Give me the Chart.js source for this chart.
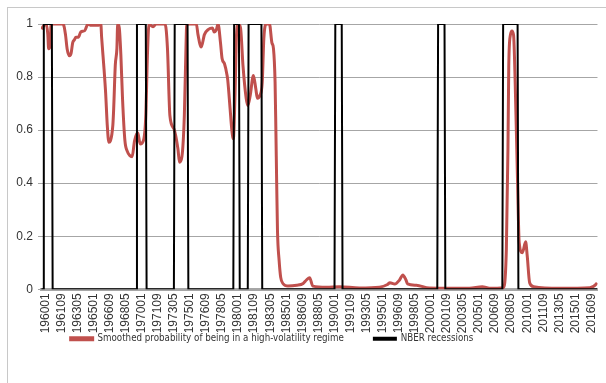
<!DOCTYPE html>
<html>
<head>
<meta charset="utf-8">
<script src="https://cdn.jsdelivr.net/npm/chart.js@4"></script>
<style>
  html, body { margin: 0; padding: 0; background: #fff; }
  #wrap { width: 606px; height: 383px; }
</style>
</head>
<body>
<div id="wrap"><canvas id="myChart" width="606" height="383"></canvas></div>
<script>
// Etichette dell'asse x (una ogni 20 mesi)
const tickLabels = ['196001', '196109', '196305', '196501', '196609', '196805', '197001', '197109', '197305',
    '197501', '197609', '197805', '198001', '198109', '198305', '198501', '198609', '198805', '199001',
    '199109', '199305', '199501', '199609', '199805', '200001', '200109', '200305', '200501', '200609',
    '200805', '201001', '201109', '201305', '201501', '201609'];

const firstMonth = '196001';
const lastMonth = '201709';

// Probabilita' stimata
const probDates = ['196001', '196003', '196007', '196009', '196010', '196012', '196101', '196204', '196207',
    '196209', '196212', '196302', '196304', '196306', '196308', '196311', '196402', '196407', '196411',
    '196503', '196511', '196603', '196604', '196607', '196609', '196611', '196701', '196703', '196706',
    '196707', '196709', '196711', '196712', '196802', '196804', '196806', '196809', '196812', '196903',
    '196906', '196909', '197001', '197004', '197008', '197011', '197101', '197103', '197108', '197112',
    '197211', '197302', '197305', '197310', '197403', '197405', '197408', '197411', '197501', '197502',
    '197602', '197604', '197608', '197612', '197705', '197710', '197712', '197803', '197805', '197808',
    '197810', '197901', '197904', '197905', '197908', '197910', '197912', '198002', '198004', '198006',
    '198009', '198012', '198104', '198106', '198109', '198201', '198204', '198206', '198209', '198212',
    '198302', '198305', '198309', '198312', '198402', '198404', '198405', '198406', '198407', '198409',
    '198411', '198502', '198508', '198607', '198703', '198707', '198711', '198803', '198908', '199012',
    '199301', '199502', '199512', '199603', '199609', '199703', '199707', '199711', '199801', '199812',
    '200004', '200205', '200406', '200510', '200607', '200712', '200804', '200806', '200807', '200809',
    '200811', '200901', '200903', '200906', '200908', '200912', '201004', '201006', '201009', '201102',
    '201311', '201612', '201708', '201709'];
const probValues = [0.98, 0.99, 1.0, 0.96, 0.907, 0.92, 1.0, 1.0, 0.96,
    0.907, 0.88, 0.89, 0.93, 0.94, 0.95, 0.95, 0.97, 0.975, 1.0,
    0.995, 0.995, 1.0, 0.95, 0.83, 0.74, 0.62, 0.554, 0.56, 0.62,
    0.68, 0.844, 0.907, 1.0, 0.985, 0.88, 0.72, 0.56, 0.52, 0.504,
    0.50, 0.56, 0.59, 0.548, 0.56, 0.655, 0.88, 1.0, 0.99, 1.0,
    1.0, 0.907, 0.655, 0.605, 0.53, 0.479, 0.50, 0.655, 0.907, 1.0,
    1.0, 0.96, 0.913, 0.96, 0.98, 0.985, 0.97, 0.98, 1.0, 0.93,
    0.87, 0.85, 0.81, 0.79, 0.68, 0.605, 0.567, 0.72, 0.96, 1.0,
    0.985, 0.844, 0.72, 0.693, 0.73, 0.806, 0.756, 0.72, 0.73, 0.78,
    0.945, 1.0, 1.0, 0.93, 0.907, 0.78, 0.6, 0.40, 0.22, 0.11,
    0.045, 0.021, 0.012, 0.015, 0.022, 0.035, 0.044, 0.012, 0.008, 0.01,
    0.005, 0.008, 0.018, 0.025, 0.02, 0.035, 0.054, 0.035, 0.02, 0.015,
    0.005, 0.004, 0.004, 0.01, 0.004, 0.006, 0.15, 0.53, 0.84, 0.958,
    0.974, 0.958, 0.78, 0.40, 0.176, 0.138, 0.179, 0.126, 0.025, 0.01,
    0.004, 0.006, 0.02, 0.025];

// Recessioni NBER (mese di picco e mese di minimo)
const recessionStart = ['196004', '196912', '197311', '198001', '198107', '199007', '200103', '200712'];
const recessionEnd = ['196102', '197011', '197503', '198007', '198211', '199103', '200111', '200906'];

const seriesNames = ['Smoothed probability of being in a high-volatility regime', 'NBER recessions'];

// Converte YYYYMM in indice del mese
function monthIndex(s) {
    const y = parseInt(s.substring(0, 4), 10);
    const m = parseInt(s.substring(4, 6), 10);
    return (y - 1960) * 12 + (m - 1);
}

const probPoints = probDates.map((d, i) => ({ x: monthIndex(d), y: probValues[i] }));

const recessionPoints = [{ x: monthIndex(firstMonth), y: 0 }];
recessionStart.forEach((s, i) => {
    const a = monthIndex(s);
    const b = monthIndex(recessionEnd[i]);
    recessionPoints.push({ x: a - 1, y: 0 }, { x: a, y: 1 }, { x: b, y: 1 }, { x: b + 1, y: 0 });
});
recessionPoints.push({ x: monthIndex(lastMonth), y: 0 });

const tickFont = "'Liberation Sans', Arial, sans-serif";
const legendFont = "'DejaVu Sans Condensed', sans-serif";

// Cornice grigia, sfondo bianco e posizione della legenda
const framePlugin = {
    id: 'frame',
    beforeDraw(chart) {
        const c = chart.ctx;
        c.save();
        c.fillStyle = '#ffffff';
        c.fillRect(0, 0, chart.width, chart.height);
        c.strokeStyle = '#c8c8c8';
        c.lineWidth = 1;
        c.strokeRect(7.5, 7.5, chart.width + 10, chart.height + 10);
        c.restore();
    },
    afterLayout(chart) {
        const lg = chart.legend;
        if (lg) {
            lg.left -= 27;
            lg.right -= 27;
            const dy = 304 - lg.top;
            lg.top += dy;
            lg.bottom += dy;
        }
    }
};

const ctx = document.getElementById('myChart').getContext('2d');
new Chart(ctx, {
    type: 'line',
    data: {
        datasets: [
            {
                label: seriesNames[0],
                data: probPoints,
                borderColor: '#c0504d',
                backgroundColor: '#c0504d',
                borderWidth: 3,
                pointRadius: 0,
                cubicInterpolationMode: 'monotone',
                fill: false,
                order: 1
            },
            {
                label: seriesNames[1],
                data: recessionPoints,
                borderColor: '#000000',
                backgroundColor: '#000000',
                borderWidth: 2,
                pointRadius: 0,
                tension: 0,
                fill: false,
                order: 0
            }
        ]
    },
    options: {
        responsive: false,
        animation: false,
        layout: {
            padding: { left: 0, top: 24, right: 8, bottom: 0 }
        },
        scales: {
            x: {
                type: 'linear',
                min: -0.5,
                max: monthIndex(lastMonth) + 0.5,
                afterBuildTicks: (axis) => {
                    axis.ticks = tickLabels.map(l => ({ value: monthIndex(l) }));
                },
                afterFit: (axis) => { axis.height = 44; },
                grid: { display: false, drawTicks: false },
                border: { display: true, color: '#a6a6a6', width: 3 },
                ticks: {
                    autoSkip: false,
                    minRotation: 90,
                    maxRotation: 90,
                    padding: 4,
                    labelOffset: 4,
                    color: '#333333',
                    font: { family: tickFont, size: 12 },
                    callback: (value) => {
                        const i = tickLabels.findIndex(l => monthIndex(l) === value);
                        return i >= 0 ? tickLabels[i] : '';
                    }
                }
            },
            y: {
                min: 0,
                max: 1,
                afterFit: (axis) => { axis.width = 41; },
                grid: { color: '#a6a6a6', lineWidth: 1, drawTicks: true, tickLength: 3 },
                border: { display: false },
                ticks: {
                    stepSize: 0.2,
                    padding: 5,
                    color: '#333333',
                    font: { family: tickFont, size: 12 },
                    callback: (value) => String(Math.round(value * 10) / 10)
                }
            }
        },
        plugins: {
            legend: {
                position: 'bottom',
                labels: {
                    boxWidth: 22,
                    boxHeight: 2,
                    padding: 30,
                    color: '#333333',
                    font: { family: legendFont, size: 9.7 },
                    sort: (a, b) => a.datasetIndex - b.datasetIndex
                }
            },
            tooltip: { enabled: false }
        }
    },
    plugins: [framePlugin]
});
</script>
</body>
</html>
